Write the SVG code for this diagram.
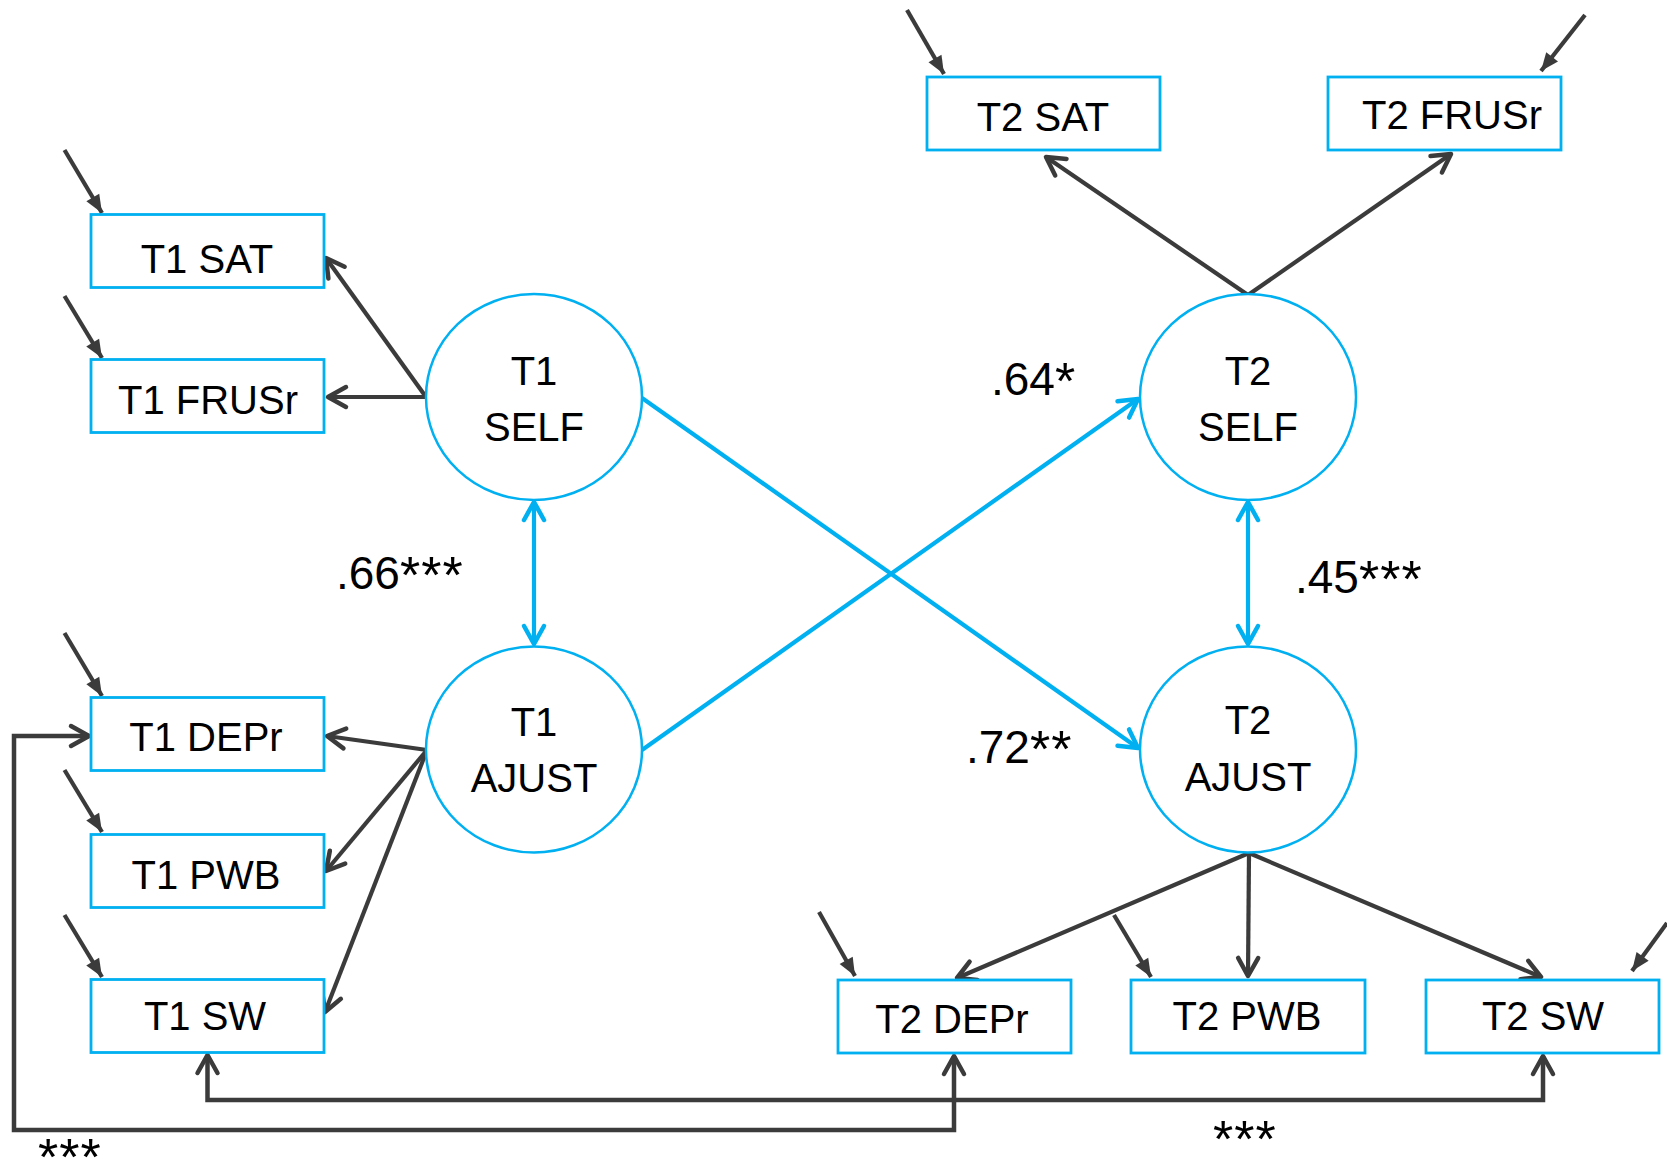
<svg xmlns="http://www.w3.org/2000/svg" width="1667" height="1171" viewBox="0 0 1667 1171">
<style>
.box{fill:#fff;stroke:#00b0f0;stroke-width:2.8}
.lat{fill:#fff;stroke:#00b0f0;stroke-width:2.5}
.t{font-family:"Liberation Sans",Arial,sans-serif;font-size:40px;fill:#000;text-anchor:middle}
.lbl{font-family:"Liberation Sans",Arial,sans-serif;font-size:46px;fill:#000}
.ast{font-size:52px;letter-spacing:1px}
.dk{fill:none;stroke:#3b3b3b;stroke-width:4.2;marker-end:url(#ad)}
.er{fill:none;stroke:#3b3b3b;stroke-width:4.2;marker-end:url(#ae)}
.bl{fill:none;stroke:#00b0f0;stroke-width:4.2;marker-end:url(#ab)}
.bl2{fill:none;stroke:#00b0f0;stroke-width:4.2;marker-start:url(#ab);marker-end:url(#ab)}
.br{fill:none;stroke:#3b3b3b;stroke-width:4.5;marker-start:url(#ad);marker-end:url(#ad)}
</style>
<defs>
<marker id="ad" viewBox="-24 -14 28 28" refX="0" refY="0" markerWidth="28" markerHeight="28" markerUnits="userSpaceOnUse" orient="auto-start-reverse">
<path d="M-18,-10 L0,0 L-18,10" fill="none" stroke="#3b3b3b" stroke-width="4.5" stroke-linecap="round" stroke-linejoin="round"/>
</marker>
<marker id="ab" viewBox="-24 -14 28 28" refX="0" refY="0" markerWidth="28" markerHeight="28" markerUnits="userSpaceOnUse" orient="auto-start-reverse">
<path d="M-18,-10 L0,0 L-18,10" fill="none" stroke="#00b0f0" stroke-width="4.5" stroke-linecap="round" stroke-linejoin="round"/>
</marker>
<marker id="ae" viewBox="-22 -10 24 20" refX="0" refY="0" markerWidth="24" markerHeight="20" markerUnits="userSpaceOnUse" orient="auto">
<path d="M-18,-7.5 L0,0 L-18,7.5 Z" fill="#3b3b3b"/>
</marker>
</defs>

<g id="connectors">
<line class="dk" x1="426" y1="397" x2="326" y2="258"/>
<line class="dk" x1="426" y1="397" x2="328" y2="397"/>
<line class="dk" x1="427" y1="750" x2="327" y2="736"/>
<line class="dk" x1="427" y1="750" x2="326" y2="871"/>
<line class="dk" x1="427" y1="750" x2="325" y2="1012"/>
<line class="dk" x1="1248" y1="295" x2="1046" y2="157"/>
<line class="dk" x1="1248" y1="295" x2="1451" y2="154"/>
<line class="dk" x1="1249" y1="853" x2="957" y2="978"/>
<line class="dk" x1="1249" y1="853" x2="1248" y2="976"/>
<line class="dk" x1="1249" y1="853" x2="1541" y2="977"/>
<line class="bl2" x1="534" y1="502" x2="534" y2="644"/>
<line class="bl2" x1="1248" y1="502" x2="1248" y2="644"/>
<line class="bl" x1="642" y1="398" x2="1138" y2="748"/>
<line class="bl" x1="642" y1="750" x2="1138" y2="399"/>
<line class="er" x1="64.5" y1="150" x2="102" y2="213"/>
<line class="er" x1="64.5" y1="296" x2="102" y2="358"/>
<line class="er" x1="64.5" y1="633" x2="102" y2="696"/>
<line class="er" x1="64.5" y1="770" x2="102" y2="832"/>
<line class="er" x1="64.5" y1="915" x2="102" y2="977"/>
<line class="er" x1="907" y1="10" x2="944" y2="74"/>
<line class="er" x1="1585" y1="15" x2="1541" y2="71"/>
<line class="er" x1="819" y1="912" x2="855" y2="976"/>
<line class="er" x1="1114" y1="915" x2="1151" y2="977"/>
<line class="er" x1="1667" y1="923" x2="1632" y2="971"/>
<path class="br" d="M207.5,1055 L207.5,1100 L1543,1100 L1543,1056"/>
<path class="br" d="M954,1056 L954,1130 L14,1130 L14,736 L89,736"/>
</g>

<g id="T1_SAT"><rect class="box" x="91" y="214.5" width="233" height="73"/><text class="t" x="207" y="273">T1 SAT</text></g>
<g id="T1_FRUSr"><rect class="box" x="91" y="359.5" width="233" height="73"/><text class="t" x="208" y="414">T1 FRUSr</text></g>
<g id="T1_DEPr"><rect class="box" x="91" y="697.5" width="233" height="73"/><text class="t" x="206" y="751">T1 DEPr</text></g>
<g id="T1_PWB"><rect class="box" x="91" y="834.5" width="233" height="73"/><text class="t" x="206" y="889">T1 PWB</text></g>
<g id="T1_SW"><rect class="box" x="91" y="979.5" width="233" height="73"/><text class="t" x="205" y="1030">T1 SW</text></g>
<g id="T2_SAT"><rect class="box" x="927" y="77" width="233" height="73"/><text class="t" x="1043" y="131">T2 SAT</text></g>
<g id="T2_FRUSr"><rect class="box" x="1328" y="77" width="233" height="73"/><text class="t" x="1452" y="129">T2 FRUSr</text></g>
<g id="T2_DEPr"><rect class="box" x="838" y="980" width="233" height="73"/><text class="t" x="952" y="1033">T2 DEPr</text></g>
<g id="T2_PWB"><rect class="box" x="1131" y="980" width="234" height="73"/><text class="t" x="1247" y="1030">T2 PWB</text></g>
<g id="T2_SW"><rect class="box" x="1426" y="980" width="233" height="73"/><text class="t" x="1543" y="1030">T2 SW</text></g>

<g id="T1_SELF"><ellipse class="lat" cx="534" cy="397" rx="108" ry="103"/><text class="t" x="534" y="385">T1</text><text class="t" x="534" y="441">SELF</text></g>
<g id="T1_AJUST"><ellipse class="lat" cx="534" cy="749.5" rx="108" ry="103"/><text class="t" x="534" y="736">T1</text><text class="t" x="534" y="792">AJUST</text></g>
<g id="T2_SELF"><ellipse class="lat" cx="1248" cy="397" rx="108" ry="103"/><text class="t" x="1248" y="385">T2</text><text class="t" x="1248" y="441">SELF</text></g>
<g id="T2_AJUST"><ellipse class="lat" cx="1248" cy="749.5" rx="108" ry="103"/><text class="t" x="1248" y="734">T2</text><text class="t" x="1248" y="791">AJUST</text></g>

<g id="labels">
<text class="lbl" x="336" y="589">.66<tspan class="ast" dy="4">***</tspan></text>
<text class="lbl" x="991" y="395">.64<tspan class="ast" dy="4">*</tspan></text>
<text class="lbl" x="1295" y="593">.45<tspan class="ast" dy="4">***</tspan></text>
<text class="lbl" x="966" y="763">.72<tspan class="ast" dy="4">**</tspan></text>
<text class="lbl ast" x="1213" y="1157">***</text>
<text class="lbl ast" x="38" y="1175">***</text>
</g>
</svg>
